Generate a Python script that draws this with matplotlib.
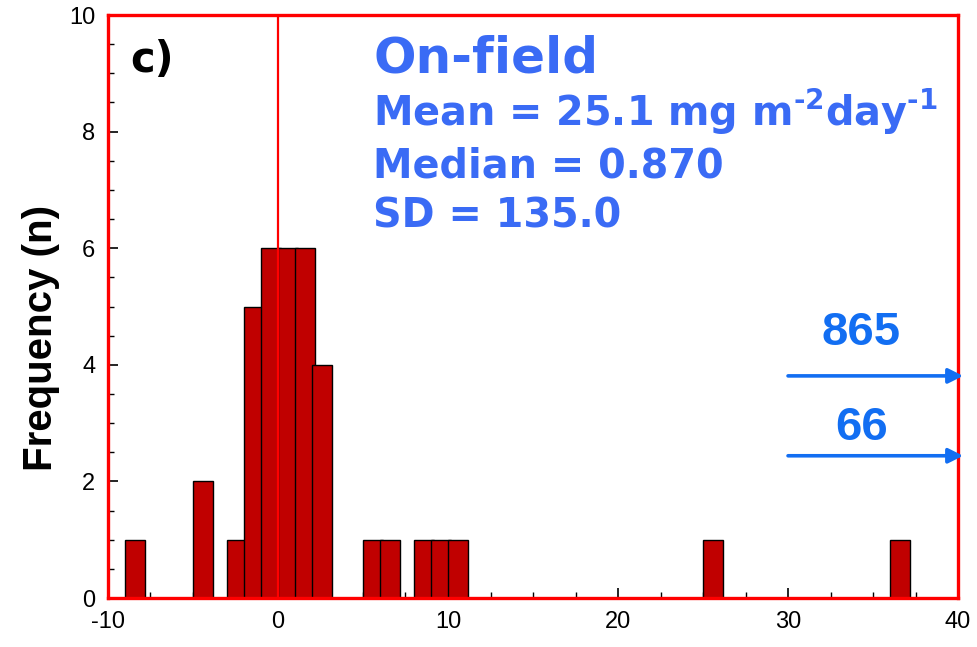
import numpy as np
import matplotlib.pyplot as plt
from matplotlib.ticker import MultipleLocator

plt.rcParams['font.family'] = ['Liberation Sans', 'DejaVu Sans']
plt.rcParams['axes.unicode_minus'] = False
plt.rcParams['mathtext.fontset'] = 'custom'
plt.rcParams['mathtext.rm'] = 'DejaVu Sans:bold'
plt.rcParams['mathtext.bf'] = 'DejaVu Sans:bold'
plt.rcParams['mathtext.default'] = 'rm'

# histogram bins (left edge) and counts
bin_left = [-9, -5, -3, -2, -1, 0, 1, 2, 5, 6, 8, 9, 10, 25, 36]
counts = [1, 2, 1, 5, 6, 6, 6, 4, 1, 1, 1, 1, 1, 1, 1]

# off-scale values shown as arrows
outliers = ['865', '66']
outlier_y = [3.81, 2.44]
outlier_lab_y = [4.34, 2.71]

stats_title = 'On-field'
stats_lines = ['Mean = 25.1 mg m$^{\u2010 2}$day$^{\u2010 1}$',
               'Median = 0.870', 'SD = 135.0']
stats_y = [8.10, 7.22, 6.36]

red = '#ff0000'
blue_txt = '#3a6bf5'
blue_arr = '#126ef2'
bold_font = ['DejaVu Sans']

fig = plt.figure(figsize=(9.78, 6.47), dpi=100)
ax = fig.add_axes([0.1104, 0.0757, 0.8692, 0.9011])

ax.bar(bin_left, counts, width=1.2, align='edge', color='#c00000',
       edgecolor='black', linewidth=1, zorder=2)
ax.axvline(0, color=red, lw=1.6, zorder=3)

ax.set_xlim(-10, 40)
ax.set_ylim(0, 10)
ax.xaxis.set_major_locator(MultipleLocator(10))
ax.xaxis.set_minor_locator(MultipleLocator(2.5))
ax.yaxis.set_major_locator(MultipleLocator(2))
ax.yaxis.set_minor_locator(MultipleLocator(0.5))
ax.tick_params(which='both', direction='in', top=False, right=False,
               color='black', labelsize=17, zorder=5)
ax.tick_params(which='major', length=7, width=1.2, pad=9)
ax.tick_params(which='minor', length=4, width=1.0)

for s in ax.spines.values():
    s.set_color(red)
    s.set_linewidth(2.4)

fig.text(41 / 978, 1 - 338 / 647, 'Frequency (n)', rotation=90,
         ha='center', va='center', fontsize=29, fontweight='bold')

ax.text(-8.68, 9.02, 'c)', fontsize=30, fontweight='bold', color='black',
        family=bold_font)

ax.text(5.6, 9.02, stats_title, fontsize=36, fontweight='bold',
        color=blue_txt, family=bold_font)
for line, y in zip(stats_lines, stats_y):
    ax.text(5.6, y, line, fontsize=28.6, fontweight='bold',
            color=blue_txt, family=bold_font)

for lab, y, ly in zip(outliers, outlier_y, outlier_lab_y):
    ax.annotate('', xy=(40.3, y), xytext=(30, y),
                arrowprops=dict(arrowstyle='-|>', color=blue_arr, lw=2.6,
                                mutation_scale=22, shrinkA=0, shrinkB=0),
                annotation_clip=False)
    ax.text(34.3, ly, lab, fontsize=34, fontweight='bold',
            color=blue_arr, ha='center', va='baseline')

fig.savefig('out.png', dpi=100)
